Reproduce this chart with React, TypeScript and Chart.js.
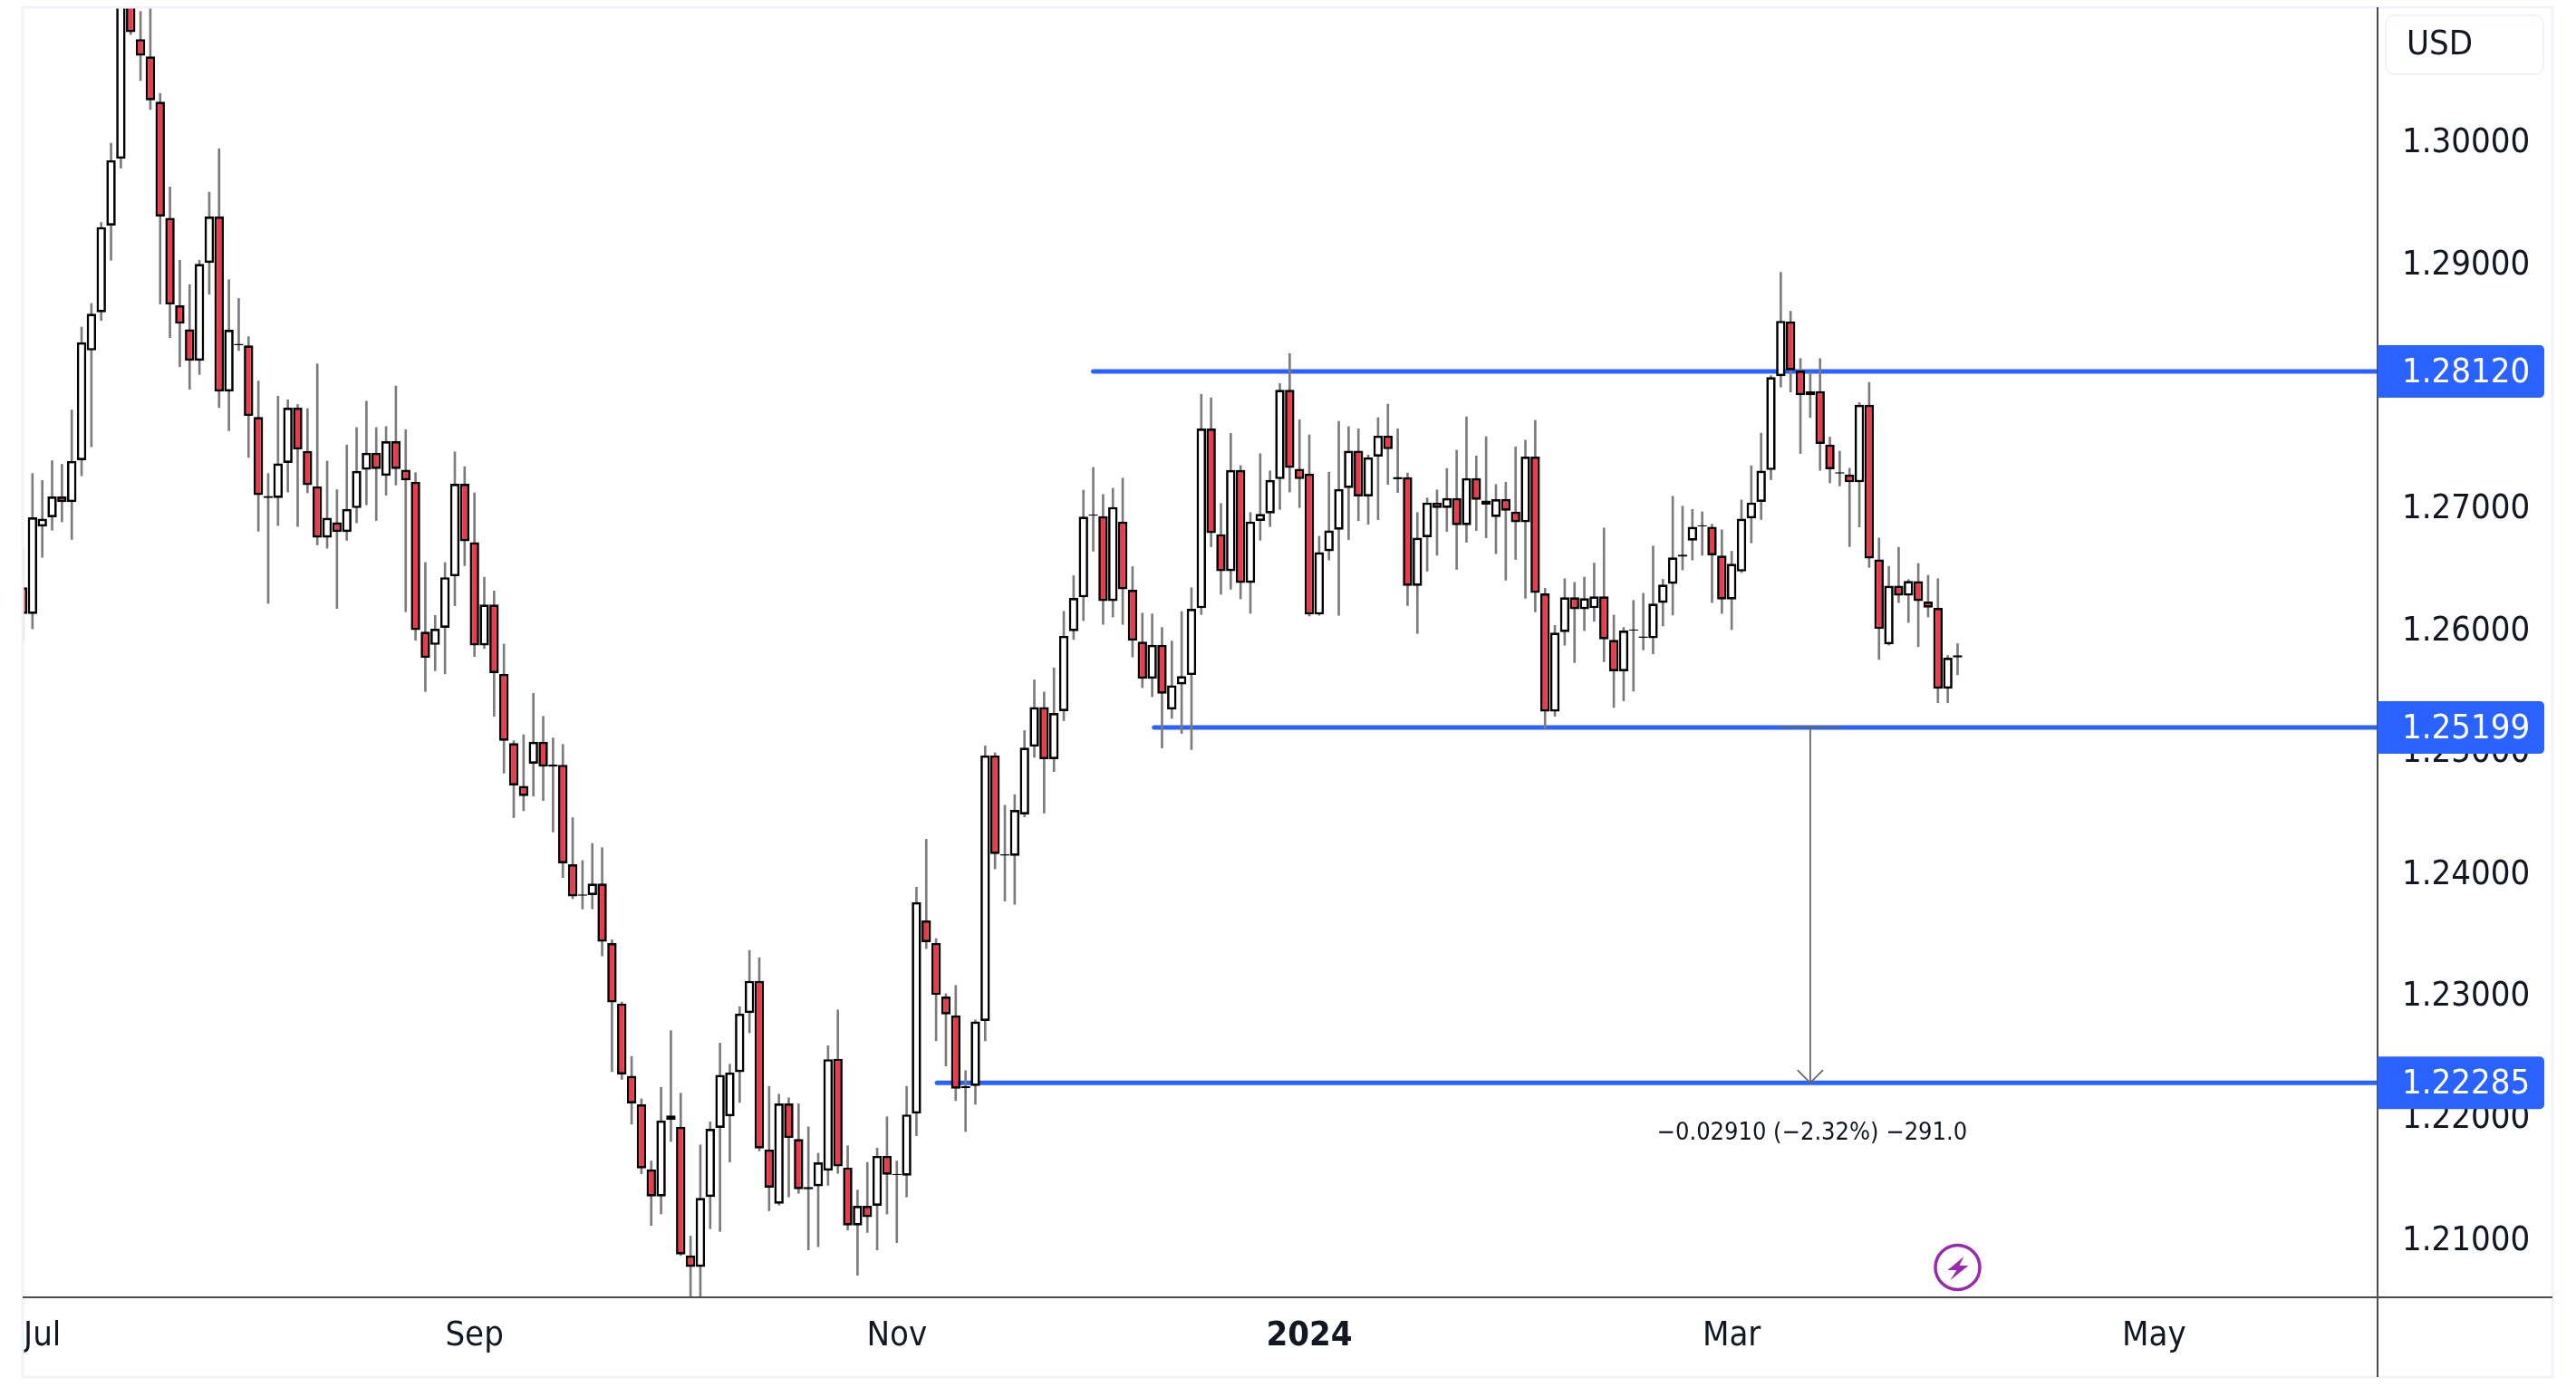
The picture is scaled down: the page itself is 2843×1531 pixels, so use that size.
import React, { useEffect, useRef } from 'react';
import { Chart, registerables } from 'chart.js';

Chart.register(...registerables);

const opens = [
  1.26349, 1.2613, 1.26848, 1.26924, 1.27094, 1.27048, 1.27392, 1.28292, 1.28605, 1.29316,
  1.29864, 1.3125, 1.30846, 1.30703, 1.30332, 1.2938, 1.28662, 1.28465, 1.28208, 1.2901,
  1.29391, 1.27955, 1.28336, 1.28333, 1.27747, 1.27099, 1.27082, 1.27369, 1.27823, 1.27468,
  1.27177, 1.26757, 1.26882, 1.26803, 1.26999, 1.27313, 1.27453, 1.27264, 1.27547, 1.27313,
  1.27215, 1.25986, 1.25877, 1.26017, 1.2644, 1.27199, 1.26719, 1.25873, 1.26209, 1.25639,
  1.25072, 1.2472, 1.24902, 1.25083, 1.24896, 1.24894, 1.24078, 1.2382, 1.23825, 1.23919,
  1.23431, 1.22936, 1.22343, 1.22109, 1.21576, 1.21353, 1.2198, 1.21924, 1.20869, 1.20775,
  1.21349, 1.21916, 1.22011, 1.22373, 1.22857, 1.23122, 1.21738, 1.21293, 1.22116, 1.21825,
  1.2143, 1.21436, 1.21565, 1.22483, 1.21591, 1.21115, 1.21277, 1.21277, 1.21686, 1.21529,
  1.21523, 1.22033, 1.23617, 1.23432, 1.22993, 1.22838, 1.22258, 1.2226, 1.22793, 1.2497,
  1.24149, 1.24146, 1.24486, 1.25042, 1.25367, 1.2494, 1.25334, 1.2599, 1.26267, 1.26936,
  1.26933, 1.26237, 1.26889, 1.26329, 1.25904, 1.256, 1.25877, 1.25346, 1.25553, 1.2563,
  1.26178, 1.27652, 1.26785, 1.26482, 1.27311, 1.26385, 1.26894, 1.26956, 1.27237, 1.2797,
  1.27321, 1.27282, 1.26126, 1.26645, 1.26822, 1.27163, 1.27469, 1.27094, 1.27422, 1.27593,
  1.27254, 1.27252, 1.26361, 1.26761, 1.27045, 1.27, 1.27082, 1.26859, 1.27245, 1.27062,
  1.26926, 1.27074, 1.2697, 1.26882, 1.27422, 1.26299, 1.25329, 1.25982, 1.26267, 1.2617,
  1.26178, 1.26275, 1.25918, 1.2566, 1.25994, 1.25936, 1.25931, 1.26221, 1.26377, 1.26618,
  1.26732, 1.26849, 1.26846, 1.26609, 1.26249, 1.26479, 1.26915, 1.2705, 1.27311, 1.28081,
  1.2853, 1.28127, 1.27925, 1.27959, 1.2752, 1.27283, 1.27275, 1.27211, 1.27846, 1.26578,
  1.25882, 1.26362, 1.2628, 1.264, 1.26232, 1.26181, 1.25517, 1.25774,
];
const highs = [
  1.2667, 1.27283, 1.27226, 1.27388, 1.27358, 1.27804, 1.28484, 1.28677, 1.29342, 1.29992,
  1.315, 1.314, 1.31073, 1.312, 1.304, 1.29633, 1.29032, 1.28832, 1.29032, 1.29591,
  1.29947, 1.28873, 1.28719, 1.28405, 1.28042, 1.27283, 1.27917, 1.27887, 1.27849, 1.27815,
  1.28182, 1.27385, 1.2715, 1.27517, 1.2766, 1.27876, 1.2766, 1.27668, 1.28001, 1.27642,
  1.2729, 1.26553, 1.26119, 1.26553, 1.2746, 1.27339, 1.27124, 1.26432, 1.26319, 1.25884,
  1.2509, 1.2514, 1.2548, 1.25291, 1.25114, 1.25061, 1.2446, 1.24108, 1.24248, 1.24214,
  1.23458, 1.22948, 1.22502, 1.22154, 1.21644, 1.22249, 1.22713, 1.222, 1.21028, 1.21776,
  1.21965, 1.22611, 1.22438, 1.2291, 1.23371, 1.23311, 1.22256, 1.22192, 1.22162, 1.22113,
  1.21924, 1.21708, 1.22589, 1.22883, 1.21769, 1.21406, 1.21633, 1.2175, 1.22007, 1.21644,
  1.22256, 1.23889, 1.24282, 1.23469, 1.23016, 1.23084, 1.22385, 1.22801, 1.25049, 1.24992,
  1.24562, 1.24649, 1.25174, 1.2559, 1.25491, 1.25688, 1.26153, 1.26445, 1.27146, 1.27333,
  1.27111, 1.27161, 1.27245, 1.26519, 1.26138, 1.26131, 1.2602, 1.25909, 1.26151, 1.26346,
  1.27933, 1.27904, 1.27037, 1.27612, 1.27348, 1.26963, 1.27445, 1.27304, 1.2802, 1.28267,
  1.27724, 1.276, 1.26768, 1.27294, 1.27711, 1.27667, 1.27649, 1.27435, 1.27741, 1.27852,
  1.27649, 1.27287, 1.26963, 1.27082, 1.27148, 1.27324, 1.27474, 1.27748, 1.27427, 1.27585,
  1.27193, 1.27212, 1.27501, 1.27556, 1.27719, 1.26341, 1.26037, 1.2642, 1.2639, 1.26433,
  1.26548, 1.26836, 1.26122, 1.2602, 1.26242, 1.263, 1.26688, 1.26415, 1.27096, 1.27015,
  1.26989, 1.26969, 1.26867, 1.26821, 1.26645, 1.27066, 1.27346, 1.27614, 1.28086, 1.28933,
  1.28614, 1.28226, 1.28112, 1.28226, 1.27581, 1.27466, 1.27326, 1.27864, 1.2803, 1.26754,
  1.26522, 1.26678, 1.26413, 1.26545, 1.26448, 1.2642, 1.2579, 1.25887,
];
const lows = [
  1.25915, 1.26009, 1.26595, 1.26818, 1.26886, 1.26742, 1.27264, 1.27502, 1.28537, 1.29032,
  1.29788, 1.30884, 1.30506, 1.30268, 1.28673, 1.28397, 1.28159, 1.27974, 1.28095, 1.28753,
  1.27823, 1.27634, 1.28292, 1.27415, 1.2681, 1.26217, 1.26856, 1.27131, 1.26848, 1.27124,
  1.26697, 1.2667, 1.26175, 1.26735, 1.26878, 1.27026, 1.26897, 1.27105, 1.27188, 1.26149,
  1.25915, 1.25495, 1.25665, 1.25639, 1.26198, 1.26527, 1.25782, 1.25847, 1.25291, 1.24826,
  1.2446, 1.24516, 1.24637, 1.246, 1.24343, 1.23968, 1.23795, 1.23711, 1.23711, 1.23326,
  1.22377, 1.22313, 1.21946, 1.21538, 1.21115, 1.21209, 1.21803, 1.20869, 1.2045, 1.2048,
  1.21088, 1.21066, 1.21636, 1.22124, 1.22695, 1.21727, 1.21236, 1.21282, 1.21349, 1.21379,
  1.20915, 1.20941, 1.21444, 1.21542, 1.21077, 1.20707, 1.21058, 1.20915, 1.21209, 1.20975,
  1.21349, 1.21852, 1.23386, 1.2263, 1.22423, 1.22139, 1.21886, 1.22109, 1.2263, 1.2404,
  1.23776, 1.23749, 1.24467, 1.24955, 1.24498, 1.24838, 1.25255, 1.25921, 1.26077, 1.26645,
  1.26045, 1.26106, 1.26045, 1.25778, 1.25526, 1.25452, 1.25032, 1.25274, 1.25151, 1.25018,
  1.26126, 1.26682, 1.26292, 1.26333, 1.26254, 1.26136, 1.26736, 1.26847, 1.26988, 1.27131,
  1.27003, 1.26114, 1.2612, 1.26573, 1.26119, 1.26741, 1.26896, 1.26867, 1.26904, 1.27193,
  1.27126, 1.262, 1.25971, 1.26482, 1.26612, 1.26808, 1.26496, 1.26719, 1.26815, 1.26756,
  1.26625, 1.26408, 1.26578, 1.26259, 1.26148, 1.25193, 1.25292, 1.25874, 1.25732, 1.25994,
  1.26071, 1.25739, 1.25364, 1.25418, 1.25497, 1.25836, 1.25803, 1.26033, 1.26122, 1.26492,
  1.26573, 1.26612, 1.26224, 1.26135, 1.26002, 1.2647, 1.26714, 1.26905, 1.27232, 1.27992,
  1.27951, 1.27446, 1.27742, 1.27308, 1.27206, 1.27181, 1.26683, 1.26844, 1.26512, 1.25757,
  1.25875, 1.26224, 1.26061, 1.25862, 1.26106, 1.25402, 1.25402, 1.25632,
];
const closes = [
  1.2613, 1.26924, 1.26912, 1.27094, 1.27048, 1.27385, 1.2836, 1.28594, 1.29304, 1.29852,
  1.3125, 1.30903, 1.3071, 1.30344, 1.29391, 1.28669, 1.28511, 1.28208, 1.29002, 1.29391,
  1.27955, 1.28462, 1.28346, 1.27755, 1.27105, 1.27081, 1.27366, 1.27823, 1.27479, 1.27188,
  1.26757, 1.2692, 1.26803, 1.26992, 1.27305, 1.27453, 1.2732, 1.27547, 1.2732, 1.27226,
  1.25998, 1.25771, 1.26009, 1.26432, 1.27199, 1.26727, 1.25873, 1.26209, 1.25646, 1.25091,
  1.24724, 1.24637, 1.25083, 1.24879, 1.24878, 1.24086, 1.23814, 1.2383, 1.23919, 1.23443,
  1.22944, 1.22354, 1.22116, 1.21583, 1.21353, 1.21976, 1.22018, 1.20877, 1.20775, 1.21342,
  1.21908, 1.22351, 1.2237, 1.22853, 1.23122, 1.21746, 1.21425, 1.22116, 1.21833, 1.21413,
  1.21412, 1.21633, 1.22479, 1.21599, 1.21115, 1.21277, 1.21183, 1.21686, 1.21531, 1.21539,
  1.22026, 1.23768, 1.23439, 1.23005, 1.22846, 1.22237, 1.2224, 1.22789, 1.2497, 1.24161,
  1.24159, 1.24524, 1.25034, 1.25367, 1.2494, 1.25318, 1.25951, 1.26262, 1.26929, 1.26946,
  1.26237, 1.27008, 1.26333, 1.25911, 1.256, 1.25877, 1.25477, 1.25546, 1.25622, 1.26173,
  1.27652, 1.26793, 1.26482, 1.27311, 1.26385, 1.26889, 1.26951, 1.2723, 1.2797, 1.27328,
  1.27237, 1.26126, 1.26637, 1.26815, 1.27156, 1.27469, 1.27094, 1.27415, 1.27593, 1.27482,
  1.27236, 1.26361, 1.26756, 1.27045, 1.27, 1.27082, 1.26859, 1.27245, 1.27067, 1.27027,
  1.27072, 1.26978, 1.26882, 1.27422, 1.26304, 1.25329, 1.25978, 1.26267, 1.2617, 1.2626,
  1.26275, 1.25923, 1.2566, 1.25994, 1.26004, 1.25946, 1.26216, 1.26372, 1.26594, 1.266,
  1.26846, 1.26859, 1.26612, 1.26249, 1.26543, 1.26913, 1.27045, 1.27306, 1.28073, 1.28535,
  1.28129, 1.27925, 1.27956, 1.27525, 1.27318, 1.27293, 1.27211, 1.27846, 1.26586, 1.26007,
  1.26362, 1.2628, 1.26402, 1.26237, 1.26183, 1.25517, 1.25772, 1.25792,
];

// bar index of the first session of each labelled month
const monthBars = [2, 46, 89, 131, 174, 217];
const monthLabels = ['Jul', 'Sep', 'Nov', '2024', 'Mar', 'May'];
const priceTicks = [1.21, 1.22, 1.23, 1.24, 1.25, 1.26, 1.27, 1.28, 1.29, 1.3];

const levels = [1.2812, 1.25199, 1.22285];
const levelStarts = [109.0, 115.2, 93.1];
const measureBar = 182.0;
const measureText = '\u22120.02910 (\u22122.32%) \u2212291.0';

const X_MAX = 239.76;
const FONT = '"DejaVu Sans Condensed", "DejaVu Sans", sans-serif';
const BLUE = '#2962ff';
const INK = '#131722';
const AXIS = '#4a4a4a';
const FRAME = '#f0f3fa';

const bars = opens.map((_, i) => i);

const overlay = {
  id: 'overlay',
  afterDraw(chart: any) {
    const { ctx, chartArea: area, scales } = chart;
    const { x, y } = scales;
    const outerRight = 2817;
    const outerBottom = 1520;
    ctx.save();

    // outer frame
    ctx.strokeStyle = FRAME;
    ctx.lineWidth = 3;
    ctx.strokeRect(area.left, area.top, outerRight - area.left, outerBottom - area.top);

    // axis lines
    ctx.strokeStyle = AXIS;
    ctx.lineWidth = 2;
    ctx.beginPath();
    ctx.moveTo(area.left, area.bottom);
    ctx.lineTo(outerRight, area.bottom);
    ctx.moveTo(area.right, area.top);
    ctx.lineTo(area.right, outerBottom);
    ctx.stroke();

    // currency box
    ctx.strokeStyle = FRAME;
    ctx.lineWidth = 2;
    ctx.beginPath();
    ctx.roundRect(2633, 17, 174, 65, 9);
    ctx.stroke();
    ctx.fillStyle = INK;
    ctx.font = `38px ${FONT}`;
    ctx.textAlign = 'left';
    ctx.textBaseline = 'middle';
    ctx.fillText('USD', 2656, 50);

    // price labels of the three levels
    levels.forEach((level) => {
      const py = y.getPixelForValue(level);
      ctx.fillStyle = BLUE;
      ctx.beginPath();
      ctx.roundRect(area.right, py - 29, 184, 58, [0, 5, 5, 0]);
      ctx.fill();
      ctx.fillStyle = '#ffffff';
      ctx.fillText(level.toFixed(5), area.right + 27, py + 2);
    });

    // measure text
    ctx.fillStyle = INK;
    ctx.font = `27px ${FONT}`;
    ctx.textAlign = 'center';
    ctx.fillText(measureText, x.getPixelForValue(measureBar) + 2, y.getPixelForValue(levels[2]) + 56);

    // lightning icon
    const cx = x.getPixelForValue(197);
    const cy = 1399;
    ctx.strokeStyle = '#9c27b0';
    ctx.fillStyle = '#ffffff';
    ctx.lineWidth = 3.5;
    ctx.beginPath();
    ctx.arc(cx, cy, 24.5, 0, Math.PI * 2);
    ctx.fill();
    ctx.stroke();
    ctx.fillStyle = '#9c27b0';
    ctx.beginPath();
    ctx.moveTo(cx + 7, cy - 12);
    ctx.lineTo(cx - 11, cy + 3);
    ctx.lineTo(cx - 1, cy + 3);
    ctx.lineTo(cx - 8, cy + 14);
    ctx.lineTo(cx + 12, cy - 2);
    ctx.lineTo(cx + 2, cy - 2);
    ctx.closePath();
    ctx.fill();

    ctx.restore();
  },
};

export default function App() {
  const canvasRef = useRef<HTMLCanvasElement>(null);

  useEffect(() => {
    if (!canvasRef.current) return;

    const levelSets = levels.map((level, i) => ({
      type: 'line' as const,
      data: [{ x: levelStarts[i], y: level }, { x: X_MAX, y: level }],
      borderColor: BLUE,
      borderWidth: 5,
      borderCapStyle: 'round' as const,
      pointRadius: 0,
      order: 4,
    }));

    const measureLine = (points: { x: number; y: number }[]) => ({
      type: 'line' as const,
      data: points,
      borderColor: '#666666',
      borderWidth: 1.8,
      pointRadius: 0,
      order: 0,
    });

    const chart = new Chart(canvasRef.current, {
      type: 'bar',
      data: {
        datasets: [
          ...levelSets,
          {
            type: 'bar',
            data: bars.map((i) => ({ x: i, y: [lows[i], highs[i]] })),
            backgroundColor: '#7c7c7c',
            borderWidth: 0,
            barThickness: 2,
            grouped: false,
            order: 3,
          },
          {
            type: 'bar',
            data: bars.map((i) => ({ x: i, y: [opens[i], closes[i]] })),
            backgroundColor: bars.map((i) => (closes[i] >= opens[i] ? '#ffffff' : '#ef3a4b')),
            borderColor: '#000000',
            borderWidth: 2.7,
            borderSkipped: false,
            inflateAmount: 0,
            barThickness: 10.4,
            grouped: false,
            order: 2,
          },
          measureLine([{ x: measureBar - 3.1, y: levels[1] + 0.00005 }, { x: measureBar + 3.2, y: levels[1] + 0.00005 }]),
          measureLine([{ x: measureBar, y: levels[1] + 0.00005 }, { x: measureBar, y: levels[2] }]),
          measureLine([
            { x: measureBar - 1.3, y: 1.2239 },
            { x: measureBar, y: levels[2] },
            { x: measureBar + 1.3, y: 1.2239 },
          ]),
        ] as any,
      },
      options: {
        responsive: false,
        animation: false,
        devicePixelRatio: 1,
        layout: { padding: { left: 25, top: 8, right: 26, bottom: 11 } },
        plugins: { legend: { display: false }, tooltip: { enabled: false } },
        scales: {
          x: {
            type: 'linear',
            offset: false,
            min: 0,
            max: X_MAX,
            grid: { display: false, drawTicks: false },
            border: { display: false },
            afterBuildTicks: (axis: any) => {
              axis.ticks = monthBars.map((value) => ({ value }));
            },
            afterFit: (axis: any) => {
              axis.height = 88;
              axis.paddingLeft = 0;
              axis.paddingRight = 0;
            },
            ticks: {
              autoSkip: false,
              maxRotation: 0,
              minRotation: 0,
              padding: 20,
              color: INK,
              font: (ctx: any) => ({
                family: FONT,
                size: 38,
                weight: ctx.tick && ctx.tick.value === 131 ? 'bold' : 'normal',
              }),
              callback: (value: any) => monthLabels[monthBars.indexOf(value)],
            },
          },
          y: {
            type: 'linear',
            position: 'right',
            min: 1.20526,
            max: 1.31107,
            grid: { display: false, drawTicks: false },
            border: { display: false },
            afterBuildTicks: (axis: any) => {
              axis.ticks = priceTicks.map((value) => ({ value }));
            },
            afterFit: (axis: any) => {
              axis.width = 193;
              axis.paddingTop = 0;
              axis.paddingBottom = 0;
            },
            ticks: {
              padding: 27,
              labelOffset: 1.5,
              color: INK,
              font: { family: FONT, size: 38 },
              callback: (value: any) => Number(value).toFixed(5),
            },
          },
        },
      },
      plugins: [overlay],
    } as any);

    return () => {
      chart.destroy();
    };
  }, []);

  return (
    <div style={{ position: 'absolute', left: 0, top: 0, width: 2843, height: 1531, background: '#ffffff' }}>
      <canvas ref={canvasRef} width={2843} height={1531} style={{ display: 'block' }} />
    </div>
  );
}
